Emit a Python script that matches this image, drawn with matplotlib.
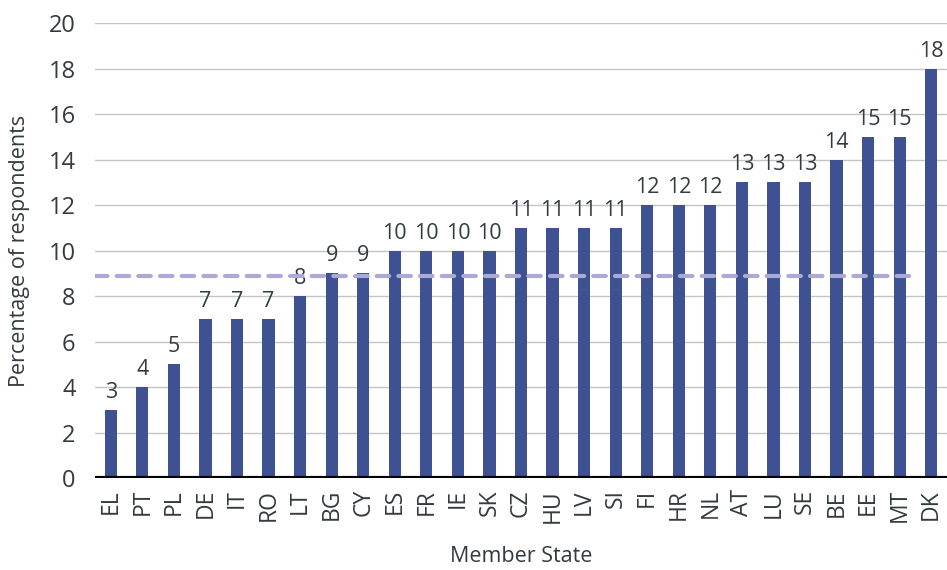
import matplotlib.pyplot as plt

plt.rcParams['font.family'] = ['Open Sans', 'DejaVu Sans']

states = ['EL', 'PT', 'PL', 'DE', 'IT', 'RO', 'LT', 'BG', 'CY', 'ES', 'FR', 'IE', 'SK', 'CZ',
          'HU', 'LV', 'SI', 'FI', 'HR', 'NL', 'AT', 'LU', 'SE', 'BE', 'EE', 'MT', 'DK']
values = [3, 4, 5, 7, 7, 7, 8, 9, 9, 10, 10, 10, 10, 11, 11, 11, 11, 12, 12, 12, 13, 13, 13, 14, 15, 15, 18]
eu_average = 8.9

text_color = '#333a40'
bar_color = '#3d5193'

fig = plt.figure(figsize=(9.47, 5.7), dpi=100)
ax = fig.add_axes([0.1003, 0.1614, 0.8997, 0.7982])

x = range(len(states))
ax.bar(x, values, width=0.39, color=bar_color, zorder=3)
for i, v in zip(x, values):
    ax.text(i, v + 0.3, str(v), ha='center', va='bottom', fontsize=15.5, color=text_color, zorder=4)

# average line stops short of the last bar
ax.plot([-0.5, len(states) - 1.45], [eu_average, eu_average], color='#abaad6', lw=3,
        dashes=(3, 2.2), dash_capstyle='round', zorder=4)

ax.set_xlim(-0.5, len(states) - 0.5)
ax.set_ylim(0, 20)
ax.set_yticks(range(0, 21, 2))
ax.grid(axis='y', color='#c4c4c4', lw=1, zorder=0)
ax.axhline(0, color='black', lw=3, zorder=5)

for s in ax.spines.values():
    s.set_visible(False)

ax.set_xticks(list(x))
ax.set_xticklabels(states, rotation=90)
ax.tick_params(axis='y', length=0, pad=14, labelsize=17, labelcolor=text_color)
ax.tick_params(axis='x', length=0, pad=8, labelsize=16.5, labelcolor=text_color)

ax.set_ylabel('Percentage of respondents', fontsize=15.5, color=text_color, labelpad=13)
ax.set_xlabel('Member State', fontsize=15.5, color=text_color, labelpad=17)

fig.savefig('out.png', dpi=100)
